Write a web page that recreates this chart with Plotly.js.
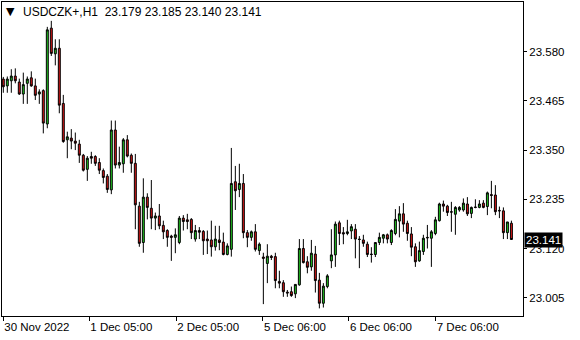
<!DOCTYPE html>
<html><head><meta charset="utf-8">
<script src="https://cdn.plot.ly/plotly-3.0.1.min.js"></script>
<style>html,body{margin:0;padding:0;background:#fff}#chart{width:580px;height:340px}</style>
</head><body><div id="chart"></div>
<script>
const symbolTitle = "USDCZK+,H1";
const lastOHLC = ["23.179", "23.185", "23.140", "23.141"];
const lastPrice = 23.141;
const open = [23.516,23.500,23.512,23.523,23.509,23.481,23.506,23.519,23.500,23.481,
23.489,23.411,23.635,23.575,23.588,23.459,23.374,23.378,23.371,23.364,
23.338,23.305,23.335,23.335,23.321,23.302,23.289,23.257,23.397,23.315,
23.318,23.374,23.338,23.319,23.219,23.134,23.240,23.214,23.191,23.196,
23.174,23.162,23.149,23.146,23.134,23.191,23.187,23.188,23.142,23.162,
23.160,23.142,23.140,23.124,23.140,23.135,23.106,23.118,23.276,23.258,
23.272,23.157,23.146,23.159,23.115,23.100,23.085,23.102,23.101,23.043,
23.040,23.018,23.019,23.014,23.035,23.120,23.089,23.077,23.107,23.046,
22.992,23.031,23.091,23.105,23.180,23.157,23.155,23.161,23.165,23.142,
23.140,23.130,23.107,23.106,23.134,23.144,23.152,23.134,23.155,23.184,
23.201,23.179,23.154,23.124,23.091,23.113,23.146,23.144,23.155,23.185,
23.224,23.219,23.206,23.200,23.210,23.210,23.224,23.202,23.217,23.216,
23.226,23.218,23.246,23.245,23.209,23.208,23.157,23.179];
const high = [23.521,23.522,23.539,23.541,23.517,23.531,23.522,23.534,23.517,23.492,
23.492,23.638,23.652,23.609,23.609,23.479,23.393,23.399,23.391,23.374,
23.341,23.336,23.346,23.338,23.331,23.307,23.294,23.419,23.419,23.358,
23.378,23.385,23.342,23.341,23.229,23.284,23.249,23.280,23.204,23.224,
23.185,23.165,23.152,23.167,23.196,23.198,23.201,23.191,23.175,23.170,
23.163,23.162,23.185,23.173,23.173,23.157,23.132,23.355,23.313,23.318,
23.294,23.163,23.162,23.177,23.134,23.110,23.130,23.105,23.110,23.068,
23.046,23.023,23.031,23.036,23.142,23.142,23.102,23.140,23.126,23.063,
23.039,23.060,23.165,23.183,23.185,23.170,23.187,23.177,23.177,23.149,
23.152,23.136,23.123,23.134,23.157,23.154,23.155,23.165,23.212,23.219,
23.226,23.185,23.170,23.132,23.136,23.152,23.175,23.163,23.194,23.227,
23.232,23.222,23.229,23.219,23.219,23.237,23.240,23.218,23.235,23.233,
23.233,23.253,23.278,23.268,23.218,23.216,23.182,23.185];
const low = [23.484,23.484,23.484,23.506,23.479,23.458,23.458,23.498,23.467,23.458,
23.389,23.401,23.570,23.548,23.436,23.367,23.331,23.352,23.350,23.320,
23.300,23.278,23.318,23.313,23.294,23.272,23.250,23.247,23.307,23.307,
23.297,23.333,23.297,23.165,23.124,23.110,23.188,23.165,23.163,23.165,
23.142,23.124,23.091,23.109,23.130,23.162,23.165,23.142,23.136,23.142,
23.105,23.107,23.101,23.115,23.116,23.104,23.104,23.101,23.210,23.240,
23.144,23.123,23.138,23.113,23.105,22.990,23.039,23.093,23.027,23.027,
23.007,23.007,23.007,23.004,23.033,23.085,23.062,23.068,23.017,22.980,
22.982,23.027,23.074,23.077,23.128,23.130,23.151,23.142,23.097,23.074,
23.124,23.100,23.087,23.100,23.128,23.132,23.132,23.128,23.151,23.146,
23.159,23.138,23.102,23.077,23.089,23.105,23.120,23.077,23.151,23.183,
23.206,23.196,23.159,23.152,23.206,23.206,23.196,23.191,23.214,23.214,
23.214,23.198,23.214,23.198,23.191,23.142,23.142,23.140];
const close = [23.498,23.516,23.523,23.512,23.481,23.503,23.516,23.500,23.478,23.486,
23.413,23.631,23.576,23.588,23.455,23.370,23.381,23.371,23.366,23.338,
23.303,23.331,23.331,23.319,23.303,23.286,23.258,23.397,23.315,23.321,
23.374,23.336,23.319,23.222,23.132,23.240,23.216,23.191,23.196,23.173,
23.159,23.146,23.146,23.152,23.191,23.183,23.183,23.157,23.162,23.158,
23.138,23.138,23.124,23.142,23.134,23.106,23.126,23.272,23.255,23.272,
23.157,23.146,23.159,23.118,23.130,23.097,23.102,23.099,23.045,23.039,
23.019,23.016,23.010,23.036,23.120,23.087,23.076,23.109,23.045,22.992,
23.032,23.056,23.105,23.177,23.155,23.154,23.159,23.171,23.142,23.141,
23.132,23.106,23.106,23.134,23.146,23.152,23.142,23.162,23.188,23.201,
23.177,23.155,23.123,23.089,23.115,23.144,23.145,23.159,23.187,23.224,
23.219,23.204,23.205,23.216,23.216,23.226,23.201,23.216,23.216,23.224,
23.216,23.250,23.244,23.206,23.208,23.157,23.182,23.141];
const barIndex = open.map((_, i) => i);
const yTicks = [23.005, 23.120, 23.235, 23.350, 23.465, 23.580];
const xTickPos = [0, 21.5, 43.2, 64.9, 86.4, 108.1];
const xTickText = ["30 Nov 2022", "1 Dec 05:00", "2 Dec 05:00", "5 Dec 06:00", "6 Dec 06:00", "7 Dec 06:00"];

const FONT = "Liberation Sans, Arial, sans-serif";
const trace = {
  type: "candlestick",
  x: barIndex, open: open, high: high, low: low, close: close,
  increasing: {fillcolor: "#22c822", line: {color: "#000000", width: 1}},
  decreasing: {fillcolor: "#d81818", line: {color: "#000000", width: 1}},
  whiskerwidth: 0,
  hoverinfo: "skip"
};
const layout = {
  width: 580, height: 340,
  margin: {l: 2, r: 57, t: 2, b: 24, pad: 0},
  paper_bgcolor: "#ffffff", plot_bgcolor: "#ffffff",
  showlegend: false,
  font: {family: FONT, size: 11.5, color: "#000000"},
  xaxis: {
    type: "linear", range: [-0.325, 129.9],
    rangeslider: {visible: false},
    showgrid: false, zeroline: false,
    showline: true, linecolor: "#000000", linewidth: 1, mirror: true,
    ticks: "outside", ticklen: 4, tickcolor: "#000000",
    tickvals: xTickPos, ticktext: xTickText,
    ticklabelposition: "outside right",
    tickfont: {family: FONT, size: 11.5, color: "#000000"}
  },
  yaxis: {
    side: "right", range: [22.9622, 23.6961],
    showgrid: false, zeroline: false,
    showline: true, linecolor: "#000000", linewidth: 1, mirror: true,
    ticks: "outside", ticklen: 3, tickcolor: "#000000",
    tickvals: yTicks, tickformat: ".3f",
    tickfont: {family: FONT, size: 11.5, color: "#000000"}
  },
  annotations: [
    {xref: "paper", yref: "paper", x: 0.003, y: 0.97, xanchor: "left", yanchor: "middle",
     text: "▼", showarrow: false, font: {family: "DejaVu Sans", size: 11, color: "#000000"}},
    {xref: "paper", yref: "paper", x: 0.036, y: 0.968, xanchor: "left", yanchor: "middle",
     text: symbolTitle + "  " + lastOHLC.join(" "), showarrow: false,
     font: {family: FONT, size: 12, color: "#000000"}},
    {xref: "paper", yref: "y", x: 1.002, y: lastPrice, xanchor: "left", yanchor: "middle",
     text: lastPrice.toFixed(3), showarrow: false, bgcolor: "#000000", borderpad: 1,
     font: {family: FONT, size: 11.5, color: "#ffffff"}}
  ]
};
Plotly.newPlot("chart", [trace], layout, {staticPlot: true, displayModeBar: false});
</script></body></html>
